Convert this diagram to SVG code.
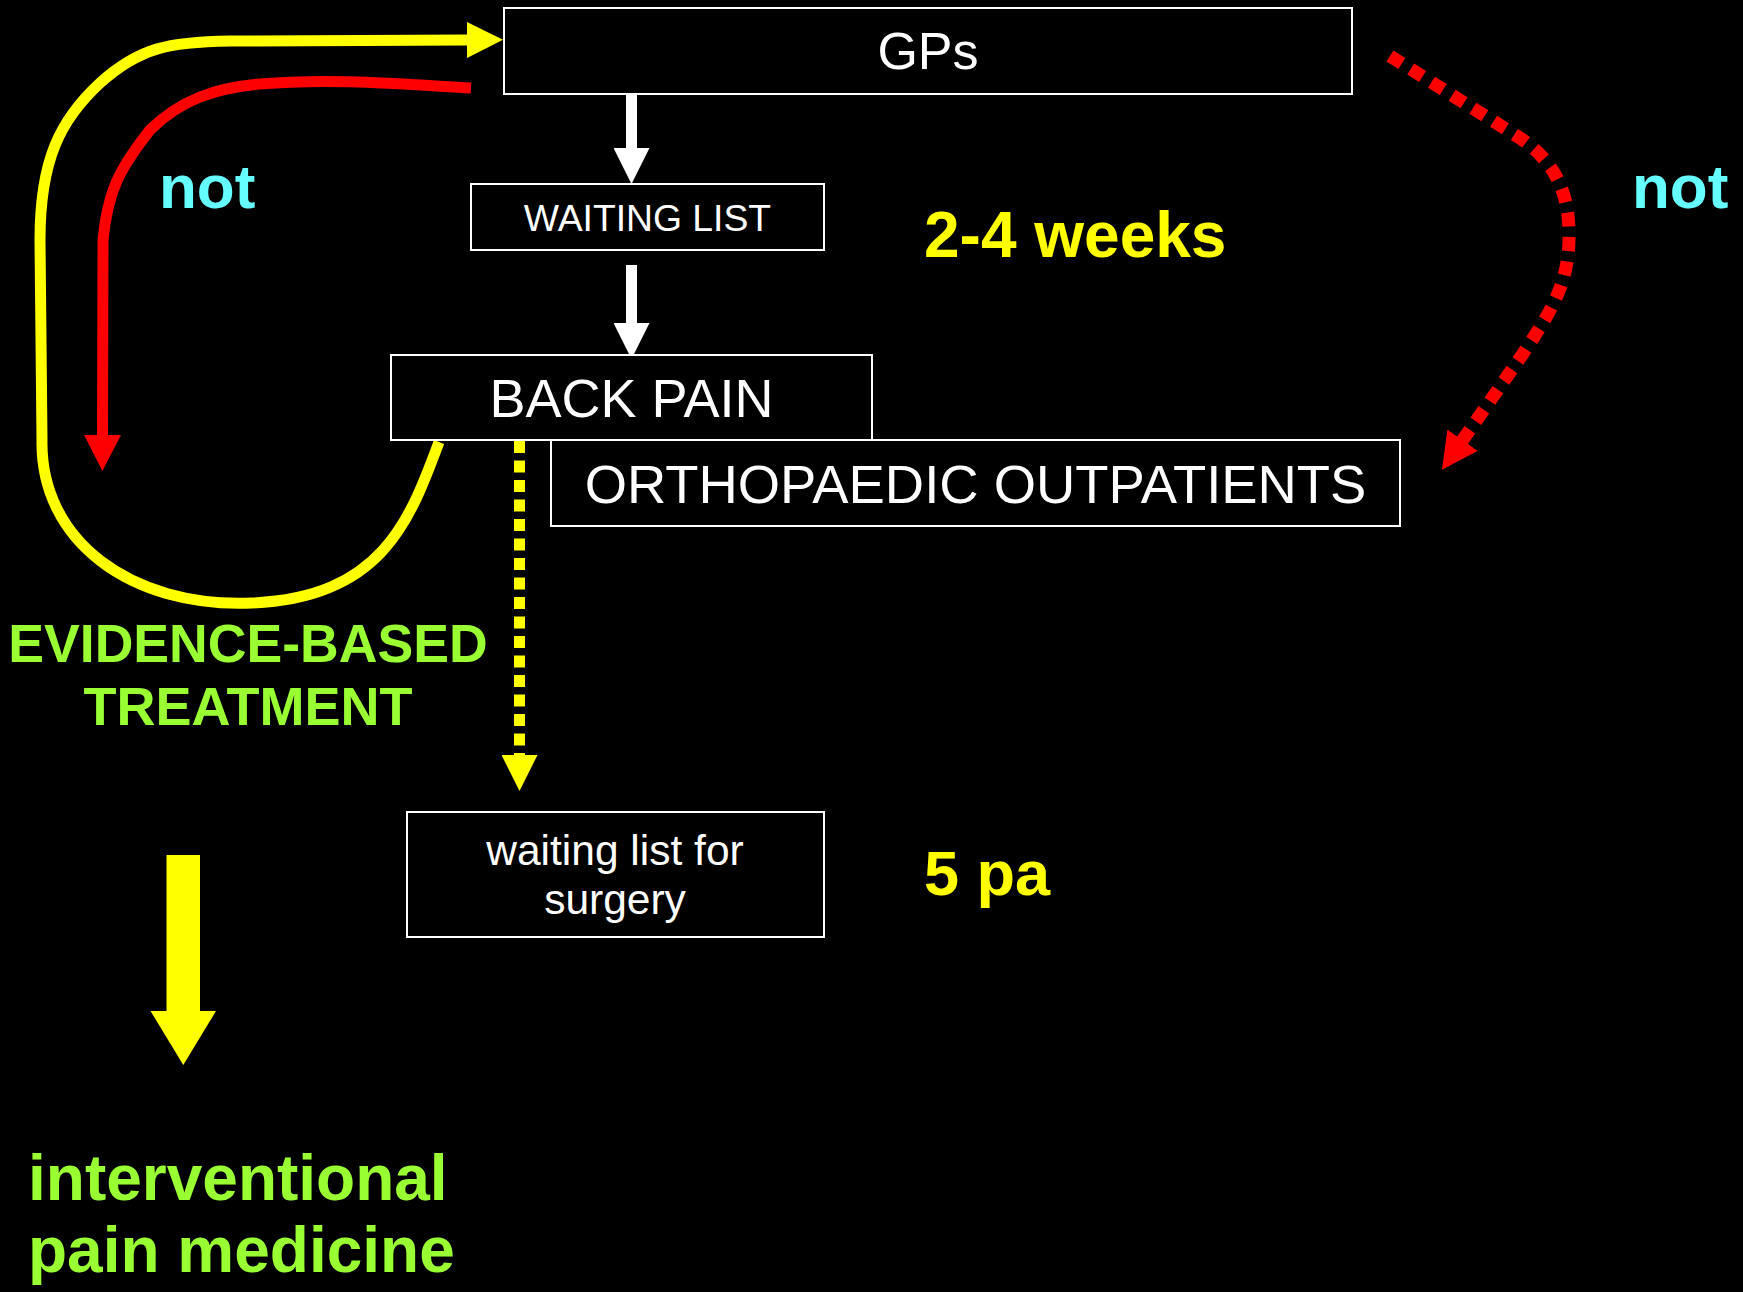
<svg xmlns="http://www.w3.org/2000/svg" width="1743" height="1292" viewBox="0 0 1743 1292">
<style>
.box{fill:#000;stroke:#fff;stroke-width:2}
.bt{fill:#fff;font-family:"Liberation Sans",Arial,sans-serif;text-anchor:middle}
.lbl{font-family:"Liberation Sans",Arial,sans-serif;font-weight:bold}
.cy{fill:#66FFFF}
.yl{fill:#FFFF00}
.gr{fill:#99FF33}
</style>
<defs>
<marker id="hw" markerUnits="userSpaceOnUse" markerWidth="36" markerHeight="36" viewBox="0 0 36 36" refX="1" refY="18" orient="auto"><path d="M0,0 L36,18 L0,36 Z" fill="#fff"/></marker>
<marker id="hy" markerUnits="userSpaceOnUse" markerWidth="36" markerHeight="36" viewBox="0 0 36 36" refX="1" refY="18" orient="auto"><path d="M0,0 L36,18 L0,36 Z" fill="#FFFF00"/></marker>
<marker id="hr" markerUnits="userSpaceOnUse" markerWidth="36" markerHeight="37" viewBox="0 0 36 37" refX="1" refY="18.5" orient="auto"><path d="M0,0 L36,18.5 L0,37 Z" fill="#FF0000"/></marker>
</defs>
<rect x="0" y="0" width="1743" height="1292" fill="#000"/>

<g id="connectors" fill="none">
  <line x1="631.5" y1="89" x2="631.5" y2="149" stroke="#fff" stroke-width="11" marker-end="url(#hw)"/>
  <line x1="631.5" y1="265" x2="631.5" y2="324" stroke="#fff" stroke-width="11" marker-end="url(#hw)"/>
  <path d="M439,442 C410,520 382,598 252,603 C130,608 40,540 42,440 L40,240 C40,160 60,120 100,83 C140,47 170,42 230,41 L468,40" stroke="#FFFF00" stroke-width="11" marker-end="url(#hy)"/>
  <path d="M471,88 C400,84 330,78 260,84 C215,88 180,100 150,130 C120,168 108,190 103,240 L102.5,436" stroke="#FF0000" stroke-width="11" marker-end="url(#hr)"/>
  <path d="M1390,56 L1520,138 C1560,165 1570,200 1569,240 C1568,290 1545,320 1520,358 L1462,441" stroke="#FF0000" stroke-width="13" stroke-dasharray="14 10.5" marker-end="url(#hr)"/>
  <line x1="519.5" y1="441" x2="519.5" y2="756" stroke="#FFFF00" stroke-width="11" stroke-dasharray="12 7.5" marker-end="url(#hy)"/>
  <polygon points="166.5,855 200,855 200,1011 216,1011 183.3,1065 150.5,1011 166.5,1011" fill="#FFFF00"/>
</g>

<g id="gps">
  <rect class="box" x="504" y="8" width="848" height="86"/>
  <text class="bt" x="928" y="69" font-size="52">GPs</text>
</g>
<g id="waiting-list">
  <rect class="box" x="471" y="184" width="353" height="66"/>
  <text class="bt" x="647.5" y="231" font-size="37.3">WAITING LIST</text>
</g>
<g id="back-pain">
  <rect class="box" x="391" y="355" width="481" height="85"/>
  <text class="bt" x="631.5" y="417" font-size="54">BACK PAIN</text>
</g>
<g id="orthopaedic-outpatients">
  <rect class="box" x="551" y="440" width="849" height="86"/>
  <text class="bt" x="975.5" y="503" font-size="54.4">ORTHOPAEDIC OUTPATIENTS</text>
</g>
<g id="waiting-list-surgery">
  <rect class="box" x="407" y="812" width="417" height="125"/>
  <text class="bt" x="615" y="865" font-size="42.5">waiting list for</text>
  <text class="bt" x="615" y="914" font-size="42.5">surgery</text>
</g>

<g id="labels">
  <text class="lbl cy" x="159" y="208" font-size="62">not</text>
  <text class="lbl cy" x="1632" y="208" font-size="62">not</text>
  <text class="lbl yl" x="924" y="257" font-size="64">2-4 weeks</text>
  <text class="lbl yl" x="924" y="895" font-size="63">5 pa</text>
  <text class="lbl gr" x="248" y="662" font-size="53.6" text-anchor="middle">EVIDENCE-BASED</text>
  <text class="lbl gr" x="248" y="725" font-size="54" text-anchor="middle">TREATMENT</text>
  <text class="lbl gr" x="28" y="1200" font-size="64">interventional</text>
  <text class="lbl gr" x="28" y="1272" font-size="64">pain medicine</text>
</g>
</svg>
